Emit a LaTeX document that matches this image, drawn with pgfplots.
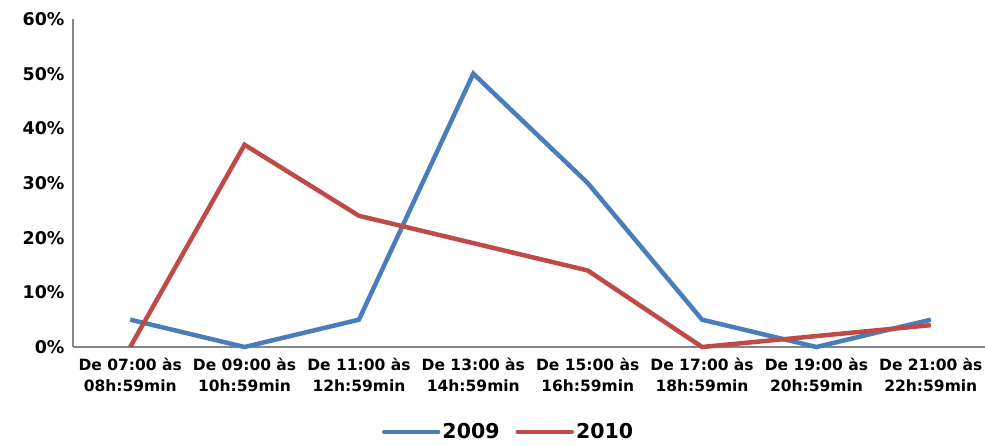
\documentclass[border=0pt]{standalone}
\usepackage{fontspec}
\setmainfont{DejaVu Sans}
\usepackage{pgfplots}
\pgfplotsset{compat=1.18}
\definecolor{c2009}{HTML}{4A7EBB}
\definecolor{c2010}{HTML}{BE4B48}
\definecolor{axgray}{HTML}{868686}
\begin{document}
\begin{tikzpicture}
\useasboundingbox (0,0) rectangle (985bp,446bp);
\begin{axis}[
  at={(73bp,99bp)}, anchor=south west,
  scale only axis, width=915bp, height=328bp,
  xmin=-0.5, xmax=7.5, ymin=0, ymax=60,
  axis x line=bottom, axis y line=left,
  axis line style={-, axgray, line width=2bp},
  xtick={0,...,7},
  xticklabels={{De 07:00 às\\08h:59min},{De 09:00 às\\10h:59min},{De 11:00 às\\12h:59min},{De 13:00 às\\14h:59min},{De 15:00 às\\16h:59min},{De 17:00 às\\18h:59min},{De 19:00 às\\20h:59min},{De 21:00 às\\22h:59min}},
  xticklabel style={align=center, font=\fontsize{15.5bp}{21bp}\selectfont\bfseries, yshift=-8bp},
  ytick={0,10,...,60},
  yticklabel={\pgfmathprintnumber{\tick}\%},
  yticklabel style={font=\fontsize{17.5bp}{20bp}\selectfont\bfseries, xshift=-5bp},
  /pgf/number format/assume math mode=true,
  major tick length=0pt,
  legend style={draw=none, at={(0.476,-0.259)}, anchor=center, legend columns=2,
    font=\fontsize{20.5bp}{24bp}\selectfont\bfseries, /tikz/every even column/.append style={column sep=14bp}},
  legend image code/.code={\draw[#1, line cap=round] (0bp,0bp) -- (54bp,0bp);},
  clip=false,
]
\addplot[c2009, line width=4.5bp] coordinates {(0,5) (1,0) (2,5) (3,50) (4,30) (5,5) (6,0) (7,5)};
\addlegendentry{2009}
\addplot[c2010, line width=4.5bp] coordinates {(0,0) (1,37) (2,24) (3,19) (4,14) (5,0) (6,2) (7,4)};
\addlegendentry{2010}
\end{axis}
\end{tikzpicture}
\end{document}
